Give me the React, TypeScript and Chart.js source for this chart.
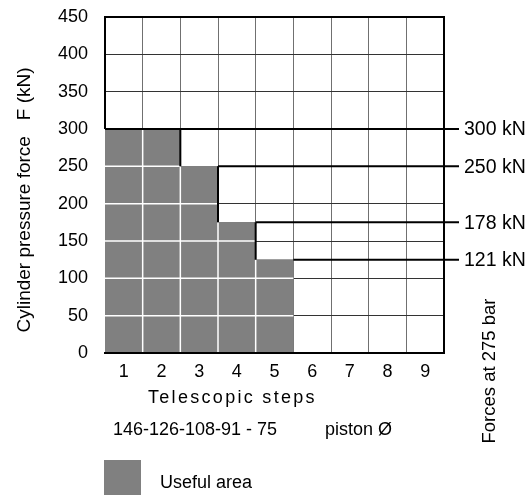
import React, { useEffect, useRef } from "react";
import { Chart, registerables } from "chart.js";

Chart.register(...registerables);

const steps = ["1", "2", "3", "4", "5", "6", "7", "8", "9"];
const usefulForce = [300, 300, 250, 175, 125, 0, 0, 0, 0];
const yMin = 0;
const yMax = 450;
const yStep = 50;
const forceLineValues = [300, 250, 175, 125];
const forceLineLabels = ["300 kN", "250 kN", "178 kN", "121 kN"];
const forceLineStartStep = [0, 3, 4, 5];
const yTitle = "Cylinder pressure force   F (kN)";
const xTitle = "Telescopic steps";
const pistonText = "146-126-108-91 - 75";
const pistonLabel = "piston \u00d8";
const rightTitle = "Forces at 275 bar";
const legendLabel = "Useful area";

const FONT = '"Liberation Sans", Arial, sans-serif';
const GRAY = "#808080";

function seg(ctx: CanvasRenderingContext2D, x1: number, y1: number, x2: number, y2: number) {
  ctx.beginPath();
  ctx.moveTo(x1, y1);
  ctx.lineTo(x2, y2);
  ctx.stroke();
}

const overlayPlugin = {
  id: "overlay",
  afterDatasetsDraw(chart: any) {
    const { ctx, chartArea: a, scales } = chart;
    const x = scales.x;
    const y = scales.y;
    const meta = chart.getDatasetMeta(0);
    ctx.save();
    ctx.strokeStyle = "#ffffff";
    ctx.lineWidth = 1.5;
    meta.data.forEach((bar: any, i: number) => {
      const v = usefulForce[i];
      if (!v) return;
      const p = bar.getProps(["x", "width"], true);
      const l = p.x - p.width / 2;
      const r = p.x + p.width / 2;
      for (let t = yStep; t < v; t += yStep) {
        const py = y.getPixelForValue(t);
        seg(ctx, l, py, r, py);
      }
      if (i > 0 && usefulForce[i - 1] > 0) {
        seg(ctx, l, y.getPixelForValue(0), l, y.getPixelForValue(Math.min(v, usefulForce[i - 1])));
      }
    });

    ctx.strokeStyle = "#000000";
    ctx.lineWidth = 2;
    seg(ctx, a.left - 1, a.top, a.right + 1, a.top);
    seg(ctx, a.right, a.top, a.right, a.bottom);
    seg(ctx, a.left - 1, a.bottom, a.right + 1, a.bottom);
    seg(ctx, a.left, a.top, a.left, y.getPixelForValue(usefulForce[0]));

    const half = (x.getPixelForValue(1) - x.getPixelForValue(0)) / 2;
    for (let i = 0; i < usefulForce.length - 1; i++) {
      const v = usefulForce[i];
      const n = usefulForce[i + 1];
      if (v > n && n > 0) {
        const px = x.getPixelForValue(i) + half;
        seg(ctx, px, y.getPixelForValue(v), px, y.getPixelForValue(n));
      }
    }
    ctx.font = `19.5px ${FONT}`;
    ctx.fillStyle = "#000";
    ctx.textAlign = "left";
    ctx.textBaseline = "middle";
    forceLineValues.forEach((v, i) => {
      const py = y.getPixelForValue(v);
      const sx = x.getPixelForValue(forceLineStartStep[i]) - half;
      seg(ctx, sx, py, a.right + 15, py);
      ctx.fillText(forceLineLabels[i], a.right + 20, py + 1);
    });
    ctx.restore();
  },
  afterDraw(chart: any) {
    const { ctx } = chart;
    ctx.save();
    ctx.fillStyle = "#000";
    ctx.textBaseline = "middle";

    ctx.save();
    ctx.font = `19px ${FONT}`;
    ctx.translate(25, 200);
    ctx.rotate(-Math.PI / 2);
    ctx.textAlign = "center";
    ctx.fillText(yTitle, 0, 0);
    ctx.restore();

    ctx.save();
    ctx.font = `18.5px ${FONT}`;
    ctx.translate(490, 371);
    ctx.rotate(-Math.PI / 2);
    ctx.textAlign = "center";
    ctx.fillText(rightTitle, 0, 0);
    ctx.restore();

    ctx.font = `18px ${FONT}`;
    ctx.save();
    ctx.textAlign = "left";
    (ctx as any).letterSpacing = "2.3px";
    ctx.fillText(xTitle, 148, 398);
    ctx.restore();

    ctx.textAlign = "left";
    ctx.fillText(pistonText, 113, 430);
    ctx.fillText(pistonLabel, 325, 430);

    ctx.fillStyle = GRAY;
    ctx.fillRect(104, 460, 37, 35);
    ctx.fillStyle = "#000";
    ctx.fillText(legendLabel, 160, 483);
    ctx.restore();
  },
};

export default function App() {
  const canvasRef = useRef<HTMLCanvasElement | null>(null);

  useEffect(() => {
    if (!canvasRef.current) return;
    const chart = new Chart(canvasRef.current, {
      type: "bar",
      data: {
        labels: steps,
        datasets: [
          {
            label: legendLabel,
            data: usefulForce,
            backgroundColor: GRAY,
            borderWidth: 0,
            barPercentage: 1,
            categoryPercentage: 1,
          },
        ],
      },
      options: {
        responsive: false,
        animation: false,
        layout: { padding: { left: 0, top: 17, right: 88, bottom: 0 } },
        plugins: {
          legend: { display: false },
          tooltip: { enabled: false },
          title: { display: false },
        },
        scales: {
          x: {
            offset: true,
            grid: { display: true, offset: true, color: "#707070", lineWidth: 1, drawTicks: false },
            border: { display: false },
            ticks: { color: "#000", font: { family: FONT, size: 18 }, padding: 8, maxRotation: 0 },
            afterFit: (s: any) => {
              s.height = 142;
              s.paddingLeft = 0;
              s.paddingRight = 0;
            },
          },
          y: {
            min: yMin,
            max: yMax,
            grid: { color: "#333333", lineWidth: 1, drawTicks: false },
            border: { display: false },
            ticks: { stepSize: yStep, color: "#000", font: { family: FONT, size: 18 }, padding: 17 },
            afterFit: (s: any) => {
              s.width = 105;
              s.paddingTop = 0;
              s.paddingBottom = 0;
            },
          },
        },
      },
      plugins: [overlayPlugin],
    });
    return () => chart.destroy();
  }, []);

  return (
    <div style={{ position: "fixed", left: 0, top: 0, width: 532, height: 495, background: "#fff" }}>
      <canvas ref={canvasRef} width={532} height={495} style={{ display: "block" }} />
    </div>
  );
}
